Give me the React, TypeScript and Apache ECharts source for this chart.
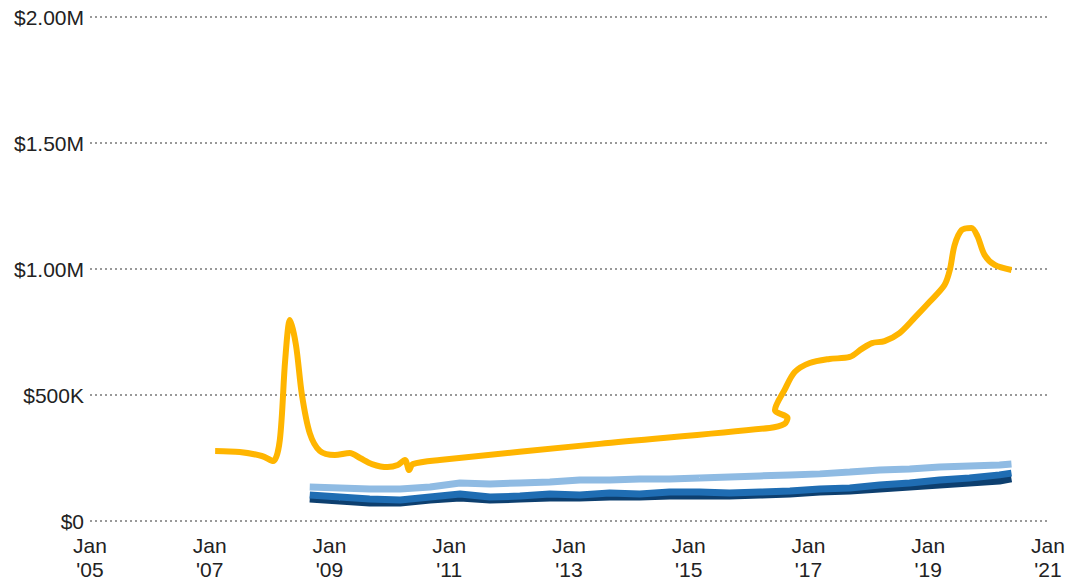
import React, { useEffect, useRef } from "react";
import * as echarts from "echarts";

// x values are decimal years, y values in thousands of dollars
const yearTicks = [2005, 2007, 2009, 2011, 2013, 2015, 2017, 2019, 2021];
const yTicksK = [0, 500, 1000, 1500, 2000];

const goldYears = [2007.09, 2007.5, 2007.87, 2008.06, 2008.17, 2008.26, 2008.34, 2008.44, 2008.54, 2008.67, 2008.84, 2009.09, 2009.34, 2009.51, 2009.71, 2009.97, 2010.14, 2010.26, 2010.33, 2010.39, 2010.84, 2013.51, 2016.35, 2016.6, 2016.65, 2016.44, 2016.6, 2016.77, 2017.02, 2017.35, 2017.69, 2017.89, 2018.06, 2018.27, 2018.52, 2018.77, 2019.02, 2019.27, 2019.36, 2019.44, 2019.56, 2019.72, 2019.82, 2019.94, 2020.11, 2020.39];
const goldValues = [278, 274, 258, 238, 321, 639, 798, 698, 500, 349, 278, 262, 270, 250, 226, 214, 222, 242, 202, 226, 242, 306, 369, 385, 409, 440, 520, 591, 627, 643, 651, 683, 706, 714, 746, 806, 869, 936, 996, 1095, 1155, 1163, 1131, 1056, 1016, 996];

const blueYears = [2008.67, 2009.17, 2009.67, 2010.18, 2010.68, 2011.18, 2011.68, 2012.18, 2012.68, 2013.18, 2013.68, 2014.18, 2014.68, 2015.18, 2015.68, 2016.19, 2016.69, 2017.19, 2017.69, 2018.19, 2018.69, 2019.19, 2019.69, 2020.19, 2020.39];
const lightBlueValues = [135, 131, 127, 127, 135, 151, 147, 151, 155, 163, 163, 167, 167, 171, 175, 179, 183, 187, 194, 202, 206, 214, 218, 222, 226];
const midBlueValues = [103, 95, 87, 83, 95, 107, 95, 99, 107, 103, 111, 107, 115, 115, 111, 115, 119, 127, 131, 143, 151, 163, 171, 183, 190];
const darkBlueValues = [87, 79, 71, 71, 83, 91, 83, 87, 91, 91, 95, 95, 99, 99, 99, 103, 107, 115, 119, 127, 135, 143, 151, 159, 167];

const pairs = (xs: number[], ys: number[]) => xs.map((x, i) => [x, ys[i] * 1000]);

const fmtY = (v: number) => {
  if (v === 0) return "$0";
  if (v >= 1000000) return "$" + (v / 1000000).toFixed(2) + "M";
  return "$" + v / 1000 + "K";
};

export default function App() {
  const ref = useRef<HTMLDivElement>(null);
  useEffect(() => {
    if (!ref.current) return;
    const chart = echarts.init(ref.current, null, { renderer: "svg" });
    const font = "'Liberation Sans', Arial, sans-serif";
    chart.setOption({
      animation: false,
      grid: { left: 90, right: 36, top: 17, bottom: 63 },
      xAxis: {
        type: "value",
        min: yearTicks[0],
        max: yearTicks[yearTicks.length - 1],
        interval: 2,
        axisLine: { show: false },
        axisTick: { show: false },
        splitLine: { show: false },
        axisLabel: {
          color: "#222",
          fontFamily: font,
          fontSize: 21,
          lineHeight: 24,
          margin: 12,
          formatter: (v: number) => "Jan\n'" + String(v).slice(2),
        },
      },
      yAxis: {
        type: "value",
        min: yTicksK[0] * 1000,
        max: yTicksK[yTicksK.length - 1] * 1000,
        interval: 500000,
        axisLine: { show: false },
        axisTick: { show: false },
        axisLabel: {
          color: "#222",
          fontFamily: font,
          fontSize: 21,
          margin: 6,
          formatter: fmtY,
        },
        splitLine: {
          show: true,
          lineStyle: { color: "#999", width: 2, type: [2, 3] },
        },
      },
      series: [
        {
          type: "line",
          data: pairs(blueYears, darkBlueValues),
          showSymbol: false,
          lineStyle: { color: "#0d3f6f", width: 7 },
          z: 2,
        },
        {
          type: "line",
          data: pairs(blueYears, midBlueValues),
          showSymbol: false,
          lineStyle: { color: "#1f6db3", width: 7 },
          z: 3,
        },
        {
          type: "line",
          data: pairs(blueYears, lightBlueValues),
          showSymbol: false,
          lineStyle: { color: "#8fbbe3", width: 7 },
          z: 4,
        },
        {
          type: "line",
          data: pairs(goldYears, goldValues),
          showSymbol: false,
          smooth: 0.3,
          lineStyle: { color: "#ffb500", width: 6 },
          z: 5,
        },
      ],
    });
    return () => chart.dispose();
  }, []);
  return <div ref={ref} style={{ width: 1084, height: 584, position: "absolute", left: 0, top: 0 }} />;
}
